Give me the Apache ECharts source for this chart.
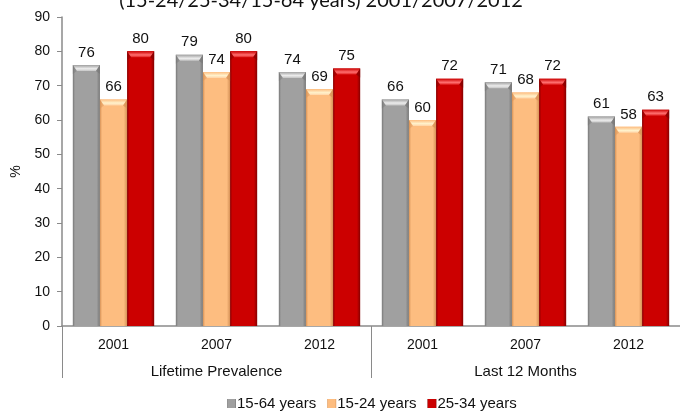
<!DOCTYPE html>
<html>
<head>
<meta charset="utf-8">
<script src="https://cdn.jsdelivr.net/npm/echarts@6/dist/echarts.min.js"></script>
<style>
  html, body { margin: 0; padding: 0; background: #fff; }
  #chart { width: 680px; height: 414px; }
</style>
</head>
<body>
<div id="chart"></div>
<script>
// Prevalence by period and age group
const years = ['2001', '2007', '2012', '2001', '2007', '2012'];
const groups = ['Lifetime Prevalence', 'Last 12 Months'];
const seriesNames = ['15-64 years', '15-24 years', '25-34 years'];
const age1564 = [76, 79, 74, 66, 71, 61];
const age1524 = [66, 74, 69, 60, 68, 58];
const age2534 = [80, 80, 75, 72, 72, 63];
const yTicks = [0, 10, 20, 30, 40, 50, 60, 70, 80, 90];

const seriesValues = [age1564, age1524, age2534];
const FONT = '"Liberation Sans", Arial, sans-serif';
const CAT_GAP = 0.21;

// base, light, dark tones per series
const palettes = [
  { base: '#a0a0a0', light: '#c4c4c4', dark: '#777777', cap: '#ececec' },
  { base: '#fdbd80', light: '#ffd3a6', dark: '#d69257', cap: '#fff2cc' },
  { base: '#cc0000', light: '#e02020', dark: '#850000', cap: '#ff7070' }
];

function bodyGradient(p) {
  return new echarts.graphic.LinearGradient(0, 0, 1, 0, [
    { offset: 0, color: p.dark },
    { offset: 0.08, color: p.base },
    { offset: 0.5, color: p.base },
    { offset: 0.88, color: p.base },
    { offset: 1, color: p.dark }
  ]);
}

const barSeries = seriesValues.map((vals, s) => ({
  name: seriesNames[s],
  type: 'bar',
  data: vals,
  barGap: '0%',
  barCategoryGap: (CAT_GAP * 100) + '%',
  itemStyle: { color: bodyGradient(palettes[s]) },
  label: {
    show: true,
    position: 'top',
    distance: 5,
    color: '#111',
    fontSize: 15,
    fontFamily: FONT
  },
  z: 2
}));

// bevelled cap drawn on top of every bar
const capSeries = seriesValues.map((vals, s) => ({
  type: 'custom',
  silent: true,
  z: 3,
  data: vals.map((v, i) => [i, v]),
  renderItem: function (params, api) {
    const band = api.size([1, 0])[0];
    const bw = band * (1 - CAT_GAP) / 3;
    const top = api.coord([api.value(0), api.value(1)]);
    const x0 = top[0] - 1.5 * bw + s * bw;
    const x1 = x0 + bw;
    const y = top[1];
    const h = 6, inset = 4;
    const p = palettes[s];
    return {
      type: 'group',
      children: [
        {
          type: 'polygon',
          shape: { points: [[x0, y], [x1, y], [x1 - inset, y + h], [x0 + inset, y + h]] },
          style: {
            fill: new echarts.graphic.LinearGradient(0, 0, 0, 1, [
              { offset: 0, color: p.base },
              { offset: 0.6, color: p.cap },
              { offset: 1, color: p.light }
            ])
          }
        },
        {
          type: 'polygon',
          shape: { points: [[x1, y], [x1, y + h + 3], [x1 - inset, y + h]] },
          style: { fill: p.dark, opacity: 0.7 }
        },
        {
          type: 'polygon',
          shape: { points: [[x0, y], [x0, y + h + 3], [x0 + inset, y + h]] },
          style: { fill: p.dark, opacity: 0.45 }
        }
      ]
    };
  }
}));

const chart = echarts.init(document.getElementById('chart'), null, { renderer: 'canvas' });
chart.setOption({
  animation: false,
  backgroundColor: '#fff',
  title: {
    text: '(15-24/25-34/15-64 years) 2001/2007/2012',
    left: 316,
    textAlign: 'center',
    top: -14,
    textStyle: { fontFamily: 'Lato, sans-serif', fontSize: 20, fontWeight: 'normal', color: '#111' }
  },
  legend: {
    data: seriesNames.map((n, s) => ({
      name: n,
      itemStyle: { color: bodyGradient(palettes[s]) }
    })),
    bottom: -2,
    left: 222,
    icon: 'rect',
    itemWidth: 9,
    itemHeight: 9,
    itemGap: 11,
    textStyle: { fontFamily: FONT, fontSize: 15, color: '#111', padding: [0, 0, 0, -4] }
  },
  grid: { left: 62, right: -12, top: 17, bottom: 88, containLabel: false },
  xAxis: [
    {
      type: 'category',
      data: years,
      position: 'bottom',
      axisLine: { lineStyle: { color: '#8a8a8a', width: 1.5 } },
      axisTick: { show: false },
      axisLabel: { fontFamily: FONT, fontSize: 14, color: '#111', margin: 12 }
    },
    {
      type: 'category',
      data: groups,
      position: 'bottom',
      axisLine: { show: false },
      axisTick: { show: true, length: 52, lineStyle: { color: '#8a8a8a', width: 1 } },
      axisLabel: { fontFamily: FONT, fontSize: 15, color: '#111', margin: 38 }
    }
  ],
  yAxis: {
    type: 'value',
    min: yTicks[0],
    max: yTicks[yTicks.length - 1],
    interval: 10,
    name: '%',
    nameLocation: 'middle',
    nameGap: 38,
    nameRotate: 90,
    nameTextStyle: { fontFamily: FONT, fontSize: 14, color: '#111' },
    axisLine: { show: true, lineStyle: { color: '#8a8a8a', width: 1.5 } },
    axisTick: { show: true, length: 5, lineStyle: { color: '#8a8a8a' } },
    splitLine: { show: false },
    axisLabel: { fontFamily: FONT, fontSize: 14, color: '#111', margin: 12 }
  },
  series: barSeries.concat(capSeries)
});
</script>
</body>
</html>
